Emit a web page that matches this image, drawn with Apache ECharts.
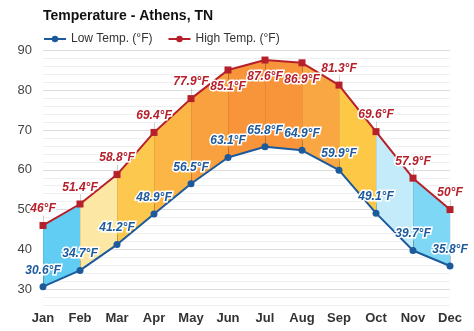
<!DOCTYPE html>
<html><head><meta charset="utf-8">
<script src="https://cdn.jsdelivr.net/npm/echarts@6/dist/echarts.min.js"></script>
<style>html,body{margin:0;padding:0;background:#fff}#c{width:474px;height:331px}</style>
</head><body><div id="c"></div>
<script>
const months = ['Jan','Feb','Mar','Apr','May','Jun','Jul','Aug','Sep','Oct','Nov','Dec'];
const lowTemps = [30.6, 34.7, 41.2, 48.9, 56.5, 63.1, 65.8, 64.9, 59.9, 49.1, 39.7, 35.8];
const highTemps = [46, 51.4, 58.8, 69.4, 77.9, 85.1, 87.6, 86.9, 81.3, 69.6, 57.9, 50];
const yTickLabels = [30, 40, 50, 60, 70, 80, 90];

const segColors = ['#62cdf3','#fde7a4','#fdc84e','#fcb646','#f9a13f','#f8943a','#f8953b','#f9a742','#fdc845','#c4ebfa','#7fd7f6'];
const highBelow = [false,false,false,false,false,true,true,true,false,false,false,false];
const FONT = '"Liberation Sans", Arial, sans-serif';
const LOW_C = '#1c5a9c', HIGH_C = '#b5202b';

const bandData = [];
for (let i = 0; i < months.length - 1; i++) {
  bandData.push([i, lowTemps[i], highTemps[i], lowTemps[i+1], highTemps[i+1]]);
}
const tickData = months.map((m, i) => [i, lowTemps[i], highTemps[i]]);

const chart = echarts.init(document.getElementById('c'));
chart.setOption({
  animation: false,
  backgroundColor: '#fff',
  title: {
    text: 'Temperature - Athens, TN', left: 38, top: 4,
    textStyle: {fontFamily: FONT, fontSize: 14, fontWeight: 'bold', color: '#111'}
  },
  legend: {
    left: 38, top: 28, itemWidth: 22, itemHeight: 8, itemGap: 15,
    textStyle: {fontFamily: FONT, fontSize: 12, color: '#333'},
    data: ['Low Temp. (°F)', 'High Temp. (°F)']
  },
  grid: {left: 43, right: 24, top: 50.5, bottom: 26},
  xAxis: {
    type: 'category', data: months, boundaryGap: false,
    axisLine: {show: false}, axisTick: {show: false},
    axisLabel: {fontFamily: FONT, fontSize: 13, fontWeight: 'bold', color: '#333', margin: 7},
    splitLine: {show: false}
  },
  yAxis: {
    type: 'value', min: 26, max: 90, interval: 2,
    axisLine: {show: false}, axisTick: {show: false},
    axisLabel: {fontFamily: FONT, fontSize: 13, color: '#444', margin: 11,
      formatter: v => yTickLabels.indexOf(v) >= 0 ? String(v) : ''},
    splitLine: {lineStyle: {color: ['#efefef','#efefef','#dcdcdc','#efefef','#efefef'], width: 1}}
  },
  series: [
    {
      type: 'custom', name: 'bands', z: 1, silent: true,
      data: bandData,
      renderItem: function (params, api) {
        const i = api.value(0);
        const p1 = api.coord([i, api.value(1)]);
        const p2 = api.coord([i, api.value(2)]);
        const p3 = api.coord([i + 1, api.value(4)]);
        const p4 = api.coord([i + 1, api.value(3)]);
        return {type: 'polygon', shape: {points: [p1, p2, p3, p4]},
          style: {fill: segColors[params.dataIndex], stroke: null}};
      }
    },
    {
      type: 'custom', name: 'ticks', z: 2, silent: true,
      data: tickData,
      renderItem: function (params, api) {
        const i = api.value(0);
        const pl = api.coord([i, api.value(1)]);
        const ph = api.coord([i, api.value(2)]);
        const below = highBelow[params.dataIndex];
        const st = {stroke: 'rgba(0,0,0,0.18)', lineWidth: 1};
        const x = Math.round(pl[0]) + 0.5;
        return {type: 'group', children: [
          {type: 'line', shape: {x1: x, y1: pl[1], x2: x, y2: ph[1]}, style: {stroke: 'rgba(0,0,0,0.08)', lineWidth: 1}},
          {type: 'line', shape: {x1: x, y1: pl[1], x2: x, y2: pl[1] - 10}, style: st},
          {type: 'line', shape: {x1: x, y1: ph[1], x2: x, y2: below ? ph[1] + 9 : ph[1] - 10}, style: st}
        ]};
      }
    },
    {
      type: 'line', name: 'Low Temp. (°F)', data: lowTemps, z: 3,
      color: LOW_C, symbol: 'circle', symbolSize: 7,
      lineStyle: {color: LOW_C, width: 2},
      itemStyle: {color: LOW_C},
      label: {show: true, position: 'top', distance: 7,
        formatter: p => p.value + '°F',
        fontFamily: FONT, fontSize: 12, fontWeight: 'bold', fontStyle: 'italic',
        color: LOW_C, textBorderColor: '#fff', textBorderWidth: 3}
    },
    {
      type: 'line', name: 'High Temp. (°F)', z: 3,
      data: highTemps.map((v, i) => ({value: v, symbol: 'rect', label: {position: highBelow[i] ? 'bottom' : 'top'}})),
      color: HIGH_C, symbol: 'circle', symbolSize: 7,
      lineStyle: {color: HIGH_C, width: 2},
      itemStyle: {color: HIGH_C},
      label: {show: true, position: 'top', distance: 7,
        formatter: p => p.value + '°F',
        fontFamily: FONT, fontSize: 12, fontWeight: 'bold', fontStyle: 'italic',
        color: HIGH_C, textBorderColor: '#fff', textBorderWidth: 3}
    }
  ]
});
</script></body></html>
